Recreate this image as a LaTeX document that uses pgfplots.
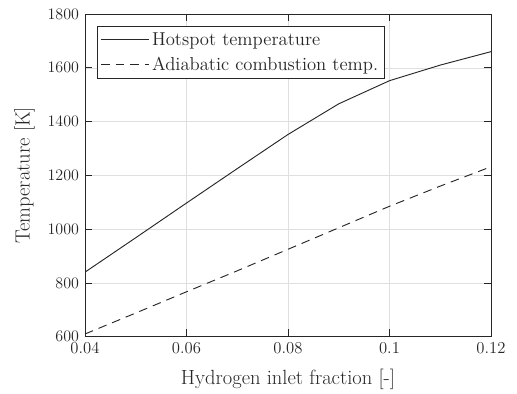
\documentclass[border=0pt]{standalone}
\usepackage{pgfplots}
\pgfplotsset{compat=1.18}
\begin{document}
\begin{tikzpicture}
\begin{axis}[
  scale only axis,
  width=304.5pt, height=242pt,
  xmin=0.04, xmax=0.12, ymin=600, ymax=1800,
  xtick={0.04,0.06,0.08,0.1,0.12},
  xticklabels={0.04,0.06,0.08,0.1,0.12},
  ytick={600,800,1000,1200,1400,1600,1800},
  /pgf/number format/1000 sep={},
  tick align=inside,
  xtick pos=both, ytick pos=both,
  major tick length=5.5pt,
  grid=major,
  major grid style={gray!25, line width=0.4pt},
  axis line style={black!85, line width=0.6pt},
  every tick/.style={black!85, line width=0.5pt},
  tick label style={font=\fontsize{12.5}{15}\selectfont, black!85},
  xticklabel style={yshift=-1pt},
  yticklabel style={xshift=-1pt},
  label style={font=\fontsize{15.4}{18}\selectfont, black!85},
  xlabel={Hydrogen inlet fraction [-]},
  ylabel={Temperature [K]},
  xlabel style={at={(axis description cs:0.5,-0.132)}, anchor=center},
  ylabel style={at={(axis description cs:-0.149,0.5)}, anchor=center},
  scaled x ticks=false,
  legend cell align=left,
  legend style={at={(rel axis cs:0.029,0.963)}, anchor=north west,
    font=\fontsize{14}{17}\selectfont, draw=black!85, line width=0.6pt,
    inner sep=2.5pt, row sep=3.5pt, text=black!85},
  legend image code/.code={\draw[#1] (0pt,0pt) -- (36pt,0pt);},
]
\addplot[black!85, line width=0.7pt] coordinates {
(0.04,840) (0.05,968) (0.06,1097) (0.07,1225) (0.08,1352) (0.09,1466) (0.10,1552) (0.11,1610) (0.12,1660)};
\addlegendentry{Hotspot temperature}
\addplot[black!85, line width=0.7pt, dash pattern=on 6.5pt off 4.5pt] coordinates {
(0.04,610) (0.05,688) (0.06,767) (0.07,845) (0.08,925) (0.09,1005) (0.10,1085) (0.11,1160) (0.12,1232)};
\addlegendentry{Adiabatic combustion temp.}
\end{axis}
\pgfresetboundingbox
\path ([shift={(-63.75pt,-42.75pt)}]current axis.south west) rectangle ([shift={(19.5pt,10.5pt)}]current axis.north east);
\end{tikzpicture}
\end{document}
